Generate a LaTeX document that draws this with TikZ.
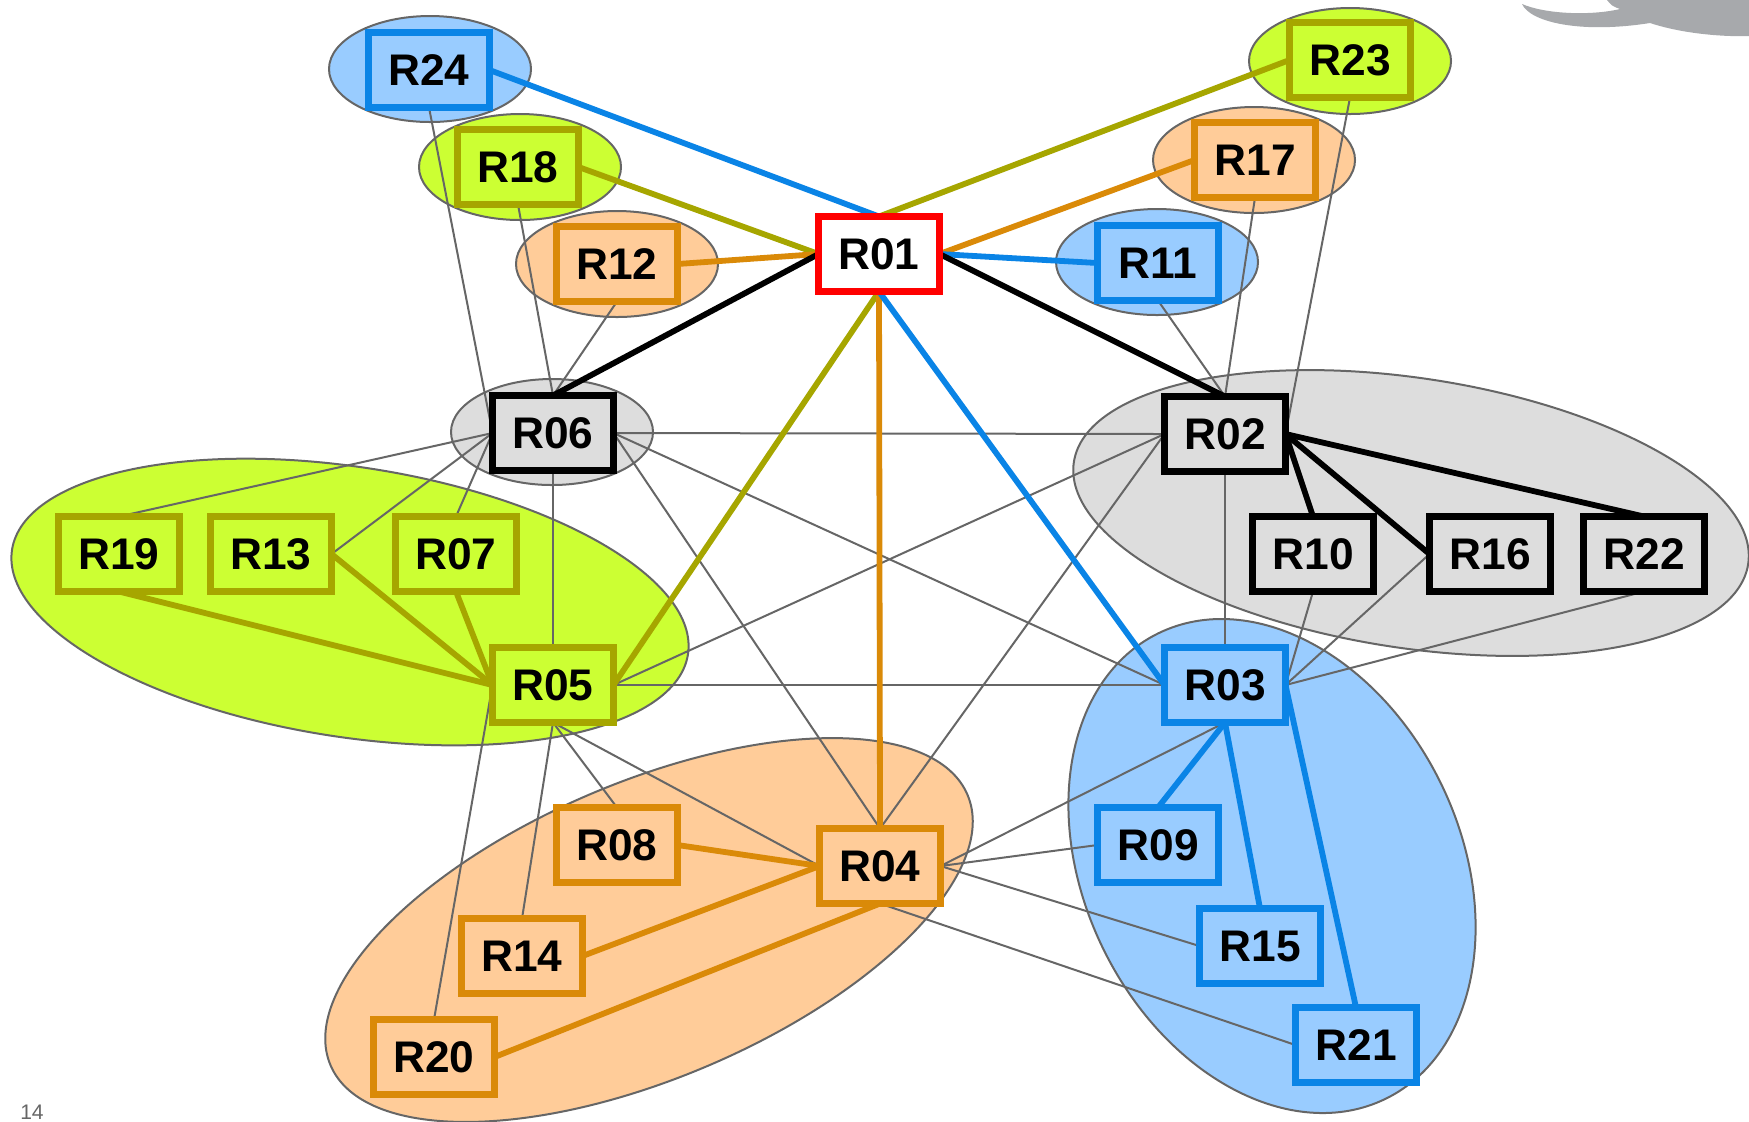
\documentclass[tikz,border=0pt]{standalone}
\usepackage{fontspec}
\setmainfont{Liberation Sans}
\pgfdeclarelayer{blobs}
\pgfdeclarelayer{links}
\pgfsetlayers{blobs,links,main}
\definecolor{rblue}{HTML}{0A84E6}
\definecolor{rbluefill}{HTML}{99CCFF}
\definecolor{rolive}{HTML}{A6A600}
\definecolor{rgreenfill}{HTML}{CCFF33}
\definecolor{rorange}{HTML}{DA8A08}
\definecolor{rorangefill}{HTML}{FFCC99}
\definecolor{rgrayfill}{HTML}{DDDDDD}
\definecolor{rline}{HTML}{666666}
\definecolor{rcloud}{HTML}{A7A9AC}
\begin{document}
\begin{tikzpicture}[x=0.1mm,y=-0.1mm,inner sep=0pt,outer sep=0pt,
router/.style={draw,rectangle,line width=0.65mm,minimum width=12.1mm,minimum height=7.5mm,font=\fontsize{12.6}{14}\selectfont\bfseries},
rb/.style={router,draw=rblue,fill=rbluefill},
rg/.style={router,draw=rolive,fill=rgreenfill},
ro/.style={router,draw=rorange,fill=rorangefill},
rk/.style={router,draw=black,fill=rgrayfill},
blob/.style={draw=rline,line width=0.2mm},
link/.style={draw=rline,line width=0.2mm},
trunk/.style={line width=0.58mm}]
\useasboundingbox (0,0) rectangle (1749,1121);
\fill[rcloud] (1607,0) .. controls (1612,6) .. (1620,9) .. controls (1590,16) and (1545,14) .. (1522,4) .. controls (1530,22) and (1580,34) .. (1650,23) .. controls (1680,33) and (1720,37) .. (1749,36) -- (1749,0) -- cycle;
\draw (32,1112) node[font=\fontsize{6}{7}\selectfont,text=rline] (pgnum) {14};
% top row
\draw (879,254) node[router,draw=red,fill=white] (R01) {R01};
\draw (429,70) node[rb] (R24) {R24};
\draw (518,167) node[rg] (R18) {R18};
\draw (617,264) node[ro] (R12) {R12};
\draw (1158,263) node[rb] (R11) {R11};
\draw (1255,160) node[ro] (R17) {R17};
\draw (1350,60) node[rg] (R23) {R23};
\draw (553,433) node[rk] (R06) {R06};
\draw (1225,434) node[rk] (R02) {R02};
% middle
\draw (119,554) node[rg] (R19) {R19};
\draw (271,554) node[rg] (R13) {R13};
\draw (456,554) node[rg] (R07) {R07};
\draw (553,685) node[rg] (R05) {R05};
\draw (1313,554) node[rk] (R10) {R10};
\draw (1490,554) node[rk] (R16) {R16};
\draw (1644,554) node[rk] (R22) {R22};
\draw (1225,685) node[rb] (R03) {R03};
% bottom
\draw (617,845) node[ro] (R08) {R08};
\draw (880,866) node[ro] (R04) {R04};
\draw (522,956) node[ro] (R14) {R14};
\draw (434,1057) node[ro] (R20) {R20};
\draw (1158,845) node[rb] (R09) {R09};
\draw (1260,946) node[rb] (R15) {R15};
\draw (1356,1045) node[rb] (R21) {R21};
\begin{pgfonlayer}{blobs}
\draw[blob,fill=rgreenfill,rotate around={-8.8:(350,602)}] (350,602) ellipse [x radius=342,y radius=135];
\draw[blob,fill=rgrayfill,rotate around={-8.6:(1411,513)}] (1411,513) ellipse [x radius=341,y radius=135];
\draw[blob,fill=rorangefill,rotate around={23:(649,930)}] (649,930) ellipse [x radius=346,y radius=148];
\draw[blob,fill=rbluefill,rotate around={-64:(1272,866)}] (1272,866) ellipse [x radius=259,y radius=188];
\draw[blob,fill=rbluefill] (430,69) ellipse [x radius=101,y radius=53];
\draw[blob,fill=rgreenfill] (520,167) ellipse [x radius=101,y radius=53];
\draw[blob,fill=rorangefill] (617,264) ellipse [x radius=101,y radius=53];
\draw[blob,fill=rbluefill] (1157,262) ellipse [x radius=101,y radius=53];
\draw[blob,fill=rorangefill] (1254,160) ellipse [x radius=101,y radius=53];
\draw[blob,fill=rgreenfill] (1350,61) ellipse [x radius=101,y radius=53];
\draw[blob,fill=rgrayfill] (552,432) ellipse [x radius=101,y radius=53];
\end{pgfonlayer}
\begin{pgfonlayer}{links}
% thin links
\draw[link] (R24.south) -- (R06.west);
\draw[link] (R18.south) -- (R06.north);
\draw[link] (R12.south) -- (R06.north);
\draw[link] (R06.west) -- (R19.north);
\draw[link] (R06.west) -- (R13.east);
\draw[link] (R06.west) -- (R07.north);
\draw[link] (R06.south) -- (R05.north);
\draw[link] (R06.east) -- (R02.west);
\draw[link] (R06.east) -- (R03.west);
\draw[link] (R06.east) -- (R04.north);
\draw[link] (R11.south) -- (R02.north);
\draw[link] (R17.south) -- (R02.north);
\draw[link] (R23.south) -- (R02.east);
\draw[link] (R02.west) -- (R05.east);
\draw[link] (R02.west) -- (R04.north);
\draw[link] (R02.south) -- (R03.north);
\draw[link] (R10.south) -- (R03.east);
\draw[link] (R16.west) -- (R03.east);
\draw[link] (R22.south) -- (R03.east);
\draw[link] (R05.east) -- (R03.west);
\draw[link] (R05.south) -- (R08.north);
\draw[link] (R05.south) -- (R14.north);
\draw[link] (R05.south) -- (R04.west);
\draw[link] (R05.west) -- (R20.north);
\draw[link] (R03.south) -- (R04.east);
\draw[link] (R04.east) -- (R09.west);
\draw[link] (R04.east) -- (R15.west);
\draw[link] (R04.south) -- (R21.west);
% trunks
\draw[trunk,rblue] (R24.east) -- (R01.north);
\draw[trunk,rolive] (R23.west) -- (R01.north);
\draw[trunk,rolive] (R18.east) -- (R01.west);
\draw[trunk,rorange] (R12.east) -- (R01.west);
\draw[trunk,black] (R01.west) -- (R06.north);
\draw[trunk,rorange] (R01.east) -- (R17.west);
\draw[trunk,rblue] (R01.east) -- (R11.west);
\draw[trunk,black] (R01.east) -- (R02.north);
\draw[trunk,rolive] (R01.south) -- (R05.east);
\draw[trunk,rorange] (R01.south) -- (R04.north);
\draw[trunk,rblue] (R01.south) -- (R03.west);
\draw[trunk,black] (R02.east) -- (R10.north);
\draw[trunk,black] (R02.east) -- (R16.west);
\draw[trunk,black] (R02.east) -- (R22.north);
\draw[trunk,rolive] (R19.south) -- (R05.west);
\draw[trunk,rolive] (R13.east) -- (R05.west);
\draw[trunk,rolive] (R07.south) -- (R05.west);
\draw[trunk,rorange] (R08.east) -- (R04.west);
\draw[trunk,rorange] (R14.east) -- (R04.west);
\draw[trunk,rorange] (R20.east) -- (R04.south);
\draw[trunk,rblue] (R03.south) -- (R09.north);
\draw[trunk,rblue] (R03.south) -- (R15.north);
\draw[trunk,rblue] (R03.east) -- (R21.north);
\end{pgfonlayer}
\end{tikzpicture}
\end{document}
